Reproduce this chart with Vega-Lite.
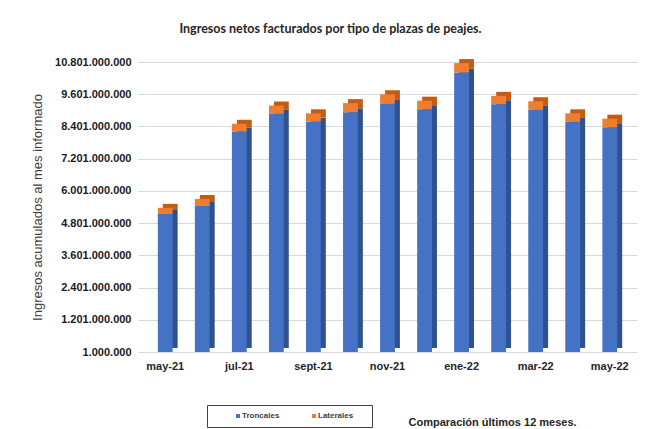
{
  "$schema": "https://vega.github.io/schema/vega-lite/v6.json",
  "width": 499,
  "height": 290,
  "autosize": {"type": "none"},
  "padding": {"left": 138, "top": 62, "right": 13, "bottom": 77},
  "background": "white",
  "config": {
    "locale": {"number": {"decimal": ",", "thousands": ".", "grouping": [3], "currency": ["", ""]}},
    "view": {"stroke": null}
  },
  "title": {
    "text": "Ingresos netos facturados por tipo de plazas de peajes.",
    "anchor": "middle",
    "dx": -57,
    "offset": 21,
    "font": "Lato",
    "fontSize": 12.5,
    "fontWeight": "bold",
    "color": "#262626"
  },
  "data": {
    "values": [
      {"mes": "may-21", "tipo": "Troncales", "orden": 1, "valor": 5140000000},
      {"mes": "may-21", "tipo": "Laterales", "orden": 2, "valor": 230000000},
      {"mes": "jun-21", "tipo": "Troncales", "orden": 1, "valor": 5440000000},
      {"mes": "jun-21", "tipo": "Laterales", "orden": 2, "valor": 260000000},
      {"mes": "jul-21", "tipo": "Troncales", "orden": 1, "valor": 8210000000},
      {"mes": "jul-21", "tipo": "Laterales", "orden": 2, "valor": 290000000},
      {"mes": "ago-21", "tipo": "Troncales", "orden": 1, "valor": 8870000000},
      {"mes": "ago-21", "tipo": "Laterales", "orden": 2, "valor": 310000000},
      {"mes": "sept-21", "tipo": "Troncales", "orden": 1, "valor": 8580000000},
      {"mes": "sept-21", "tipo": "Laterales", "orden": 2, "valor": 310000000},
      {"mes": "oct-21", "tipo": "Troncales", "orden": 1, "valor": 8930000000},
      {"mes": "oct-21", "tipo": "Laterales", "orden": 2, "valor": 340000000},
      {"mes": "nov-21", "tipo": "Troncales", "orden": 1, "valor": 9240000000},
      {"mes": "nov-21", "tipo": "Laterales", "orden": 2, "valor": 360000000},
      {"mes": "dic-21", "tipo": "Troncales", "orden": 1, "valor": 9040000000},
      {"mes": "dic-21", "tipo": "Laterales", "orden": 2, "valor": 320000000},
      {"mes": "ene-22", "tipo": "Troncales", "orden": 1, "valor": 10410000000},
      {"mes": "ene-22", "tipo": "Laterales", "orden": 2, "valor": 350000000},
      {"mes": "feb-22", "tipo": "Troncales", "orden": 1, "valor": 9230000000},
      {"mes": "feb-22", "tipo": "Laterales", "orden": 2, "valor": 310000000},
      {"mes": "mar-22", "tipo": "Troncales", "orden": 1, "valor": 9020000000},
      {"mes": "mar-22", "tipo": "Laterales", "orden": 2, "valor": 320000000},
      {"mes": "abr-22", "tipo": "Troncales", "orden": 1, "valor": 8570000000},
      {"mes": "abr-22", "tipo": "Laterales", "orden": 2, "valor": 320000000},
      {"mes": "may-22", "tipo": "Troncales", "orden": 1, "valor": 8370000000},
      {"mes": "may-22", "tipo": "Laterales", "orden": 2, "valor": 320000000}
    ]
  },
  "encoding": {
    "x": {
      "field": "mes",
      "type": "ordinal",
      "sort": null,
      "scale": {"paddingInner": 0.6, "paddingOuter": 0.535},
      "axis": {
        "values": ["may-21", "jul-21", "sept-21", "nov-21", "ene-22", "mar-22", "may-22"],
        "labelAngle": 0,
        "ticks": false,
        "domain": false,
        "labelFont": "Liberation Sans",
        "labelFontWeight": "bold",
        "labelFontSize": 11,
        "labelColor": "#262626",
        "labelPadding": 8,
        "title": "Comparación últimos 12 meses.",
        "titleX": 270,
        "titleY": 73,
        "titleAlign": "left",
        "titleBaseline": "alphabetic",
        "titleFont": "Liberation Sans",
        "titleFontSize": 11,
        "titleFontWeight": "bold",
        "titleColor": "#262626"
      }
    },
    "y": {
      "field": "valor",
      "type": "quantitative",
      "stack": "zero",
      "scale": {"domain": [1000000, 10801000000], "nice": false, "zero": false},
      "axis": {
        "values": [1000000, 1201000000, 2401000000, 3601000000, 4801000000, 6001000000, 7201000000, 8401000000, 9601000000, 10801000000],
        "format": ",.0f",
        "title": "Ingresos acumulados al mes informado",
        "titleFont": "Liberation Sans",
        "titleFontSize": 13,
        "titleFontWeight": "normal",
        "titleColor": "#404040",
        "titlePadding": 10,
        "labelFont": "Liberation Sans",
        "labelFontWeight": "bold",
        "labelFontSize": 11,
        "labelColor": "#1a1a1a",
        "labelPadding": 7,
        "ticks": false,
        "domain": false,
        "gridColor": "#d9d9d9"
      }
    },
    "order": {"field": "orden", "type": "quantitative"}
  },
  "layer": [
    {
      "mark": {"type": "bar", "xOffset": 5, "yOffset": -4},
      "encoding": {
        "color": {
          "condition": {"test": "datum.tipo === 'Troncales'", "value": "#2F528F"},
          "value": "#C55A11"
        }
      }
    },
    {
      "mark": {"type": "bar"},
      "encoding": {
        "color": {
          "field": "tipo",
          "type": "nominal",
          "scale": {"domain": ["Troncales", "Laterales"], "range": ["#4472C4", "#ED7D31"]},
          "legend": {
            "orient": "none",
            "legendX": 69,
            "legendY": 343,
            "direction": "horizontal",
            "title": "\u00a0",
            "titleOrient": "right",
            "titlePadding": 12,
            "titleFontSize": 6,
            "padding": 7,
            "symbolOffset": 20,
            "symbolType": "square",
            "symbolSize": 16,
            "symbolStrokeWidth": 0,
            "columnPadding": 10,
            "labelFont": "Liberation Sans",
            "labelFontSize": 8,
            "labelFontWeight": "bold",
            "labelColor": "#404040",
            "labelOffset": 0,
            "strokeColor": "#404040"
          }
        }
      }
    }
  ]
}
